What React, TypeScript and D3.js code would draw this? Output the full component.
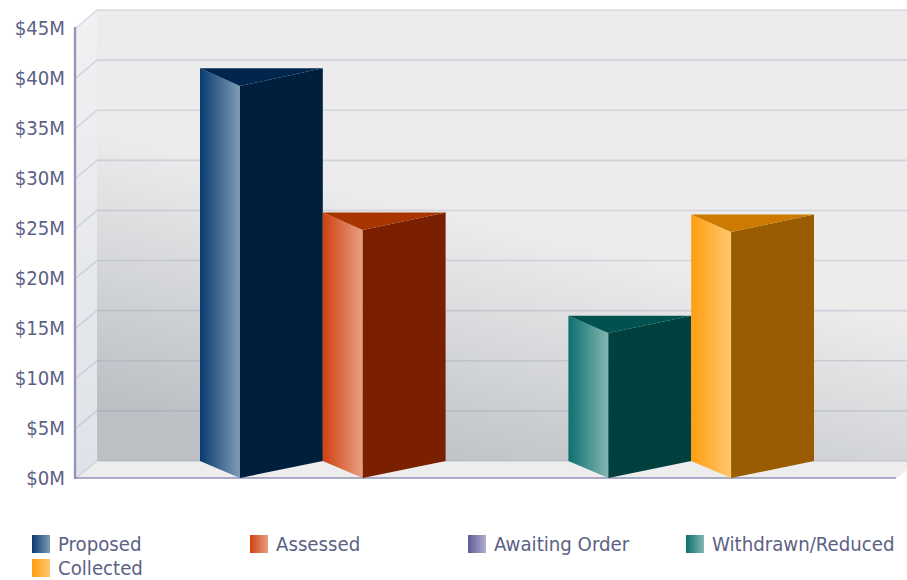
import React from "react";
import * as d3 from "d3";

const series = ["Proposed", "Assessed", "Awaiting Order", "Withdrawn/Reduced", "Collected"];
// values in $M
const values = [39.2, 24.8, 0, 14.5, 24.6];
const sideFrom = ["#083a70", "#cf4010", "#5d5b96", "#0d6f6f", "#ff9e10"];
const sideTo = ["#7f9db5", "#e8a082", "#b0afce", "#84b6b1", "#ffc76e"];
const frontColors = ["#001f3c", "#7a2000", "#33325e", "#00403f", "#995c00"];
const topColors = ["#00264d", "#a83400", "#45447a", "#005250", "#cc7a00"];
const yTicks = [0, 5, 10, 15, 20, 25, 30, 35, 40, 45];

const width = 907;
const height = 580;
const font = "'DejaVu Sans', sans-serif";
const textColor = "#5c6285";

const App: React.FC = () => {
  // front plane of the chart box and the back wall are two scales
  const yFront = d3.scaleLinear().domain([0, 45]).range([478, 28]);
  const yBack = d3.scaleLinear().domain([0, 45]).range([461, 10]);
  const x = d3.scaleBand<string>().domain(series).range([200, 814]);

  const frontX = 76;
  const backX = 97;
  const rightX = 907;
  const money = (d: number) => `$${d}M`;

  return (
    <svg
      width={width}
      height={height}
      style={{ position: "absolute", left: 0, top: 0, display: "block", fontStretch: "condensed" }}
      fontFamily={font}
    >
      <defs>
        {/* the wall shading runs downhill to the right */}
        <linearGradient id="wall" gradientUnits="userSpaceOnUse" x1={100} y1={130} x2={39.4} y2={385.6}>
          <stop offset="0" stopColor="#ececed" />
          <stop offset="1" stopColor="#bcc0c4" />
        </linearGradient>
        <linearGradient id="sideWall" x1="0" y1="0" x2="0" y2="1">
          <stop offset="0" stopColor="#f0f1f2" />
          <stop offset="1" stopColor="#dfe2e8" />
        </linearGradient>
        {series.map((s, i) => (
          <linearGradient key={s} id={`side${i}`} x1="0" y1="0" x2="1" y2="0">
            <stop offset="0" stopColor={sideFrom[i]} />
            <stop offset="1" stopColor={sideTo[i]} />
          </linearGradient>
        ))}
      </defs>

      {/* chart box */}
      <rect x={backX} y={yBack(45)} width={rightX - backX} height={yBack(0) - yBack(45)} fill="url(#wall)" />
      <polygon
        points={`${frontX},${yFront(45)} ${backX},${yBack(45)} ${backX},${yBack(0)} ${frontX},${yFront(0)}`}
        fill="url(#sideWall)"
      />
      <polygon
        points={`${frontX},${yFront(0)} ${backX},${yBack(0)} ${rightX},${yBack(0)} ${rightX},470 897,${yFront(0)}`}
        fill="#ededee"
      />

      {/* grid lines */}
      {yTicks.map((t) => (
        <path
          key={t}
          d={`M${frontX},${yFront(t)}L${backX},${yBack(t)}H${rightX}`}
          fill="none"
          stroke="#9a9ab8"
          strokeOpacity={0.32}
          strokeWidth={1.6}
        />
      ))}

      {/* axes */}
      <line x1={75} x2={75} y1={yFront(45) - 1} y2={yFront(0) + 1} stroke="#9496ba" strokeWidth={2.4} />
      <line x1={74} x2={896} y1={yFront(0)} y2={yFront(0)} stroke="#8f91b5" strokeWidth={1.6} />

      {yTicks.map((t) => (
        <text key={t} x={65} y={yFront(t)} dy="0.36em" textAnchor="end" fontSize={20.2} fill={textColor}>
          {money(t)}
        </text>
      ))}

      {/* bars */}
      {series.map((s, i) => {
        if (values[i] <= 0) return null;
        const x0 = x(s) as number;
        const x2 = x0 + x.bandwidth();
        const x1 = x0 + x.bandwidth() * 0.325;
        const backTop = yBack(values[i]);
        const frontTop = yFront(values[i]);
        return (
          <g key={s}>
            <polygon
              points={`${x0},${backTop} ${x1},${frontTop} ${x1},${yFront(0)} ${x0},${yBack(0)}`}
              fill={`url(#side${i})`}
            />
            <polygon
              points={`${x1},${frontTop} ${x2},${backTop} ${x2},${yBack(0)} ${x1},${yFront(0)}`}
              fill={frontColors[i]}
            />
            <polygon points={`${x0},${backTop} ${x2},${backTop} ${x1},${frontTop}`} fill={topColors[i]} />
          </g>
        );
      })}

      {/* legend */}
      {series.map((s, i) => {
        const lx = 32 + (i % 4) * 218;
        const ly = 544 + Math.floor(i / 4) * 24;
        return (
          <g key={s}>
            <rect x={lx} y={ly - 9} width={18} height={18} fill={`url(#side${i})`} />
            <text x={lx + 26} y={ly} dy="0.36em" fontSize={20.2} fill={textColor}>
              {s}
            </text>
          </g>
        );
      })}
    </svg>
  );
};

export default App;
